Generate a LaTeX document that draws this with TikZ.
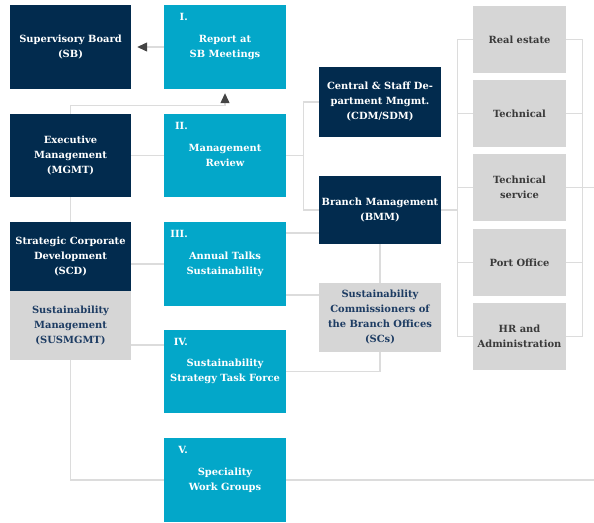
\documentclass[tikz,border=0pt]{standalone}
\usepackage{fontspec}
\setmainfont{DejaVu Serif}
\usetikzlibrary{arrows.meta,backgrounds}
\definecolor{navy}{HTML}{022B4E}
\definecolor{cyanbox}{HTML}{03A7C9}
\definecolor{graybox}{HTML}{D6D6D6}
\definecolor{linegray}{HTML}{DCDCDC}
\definecolor{arrowgray}{HTML}{444444}
\definecolor{navytext}{HTML}{1D3C63}
\definecolor{darktext}{HTML}{3A3A3A}
\tikzset{
  base/.style={inner sep=0pt, align=center, font=\fontsize{9.9}{15}\selectfont\bfseries},
  navybox/.style={base, fill=navy, text=white},
  cyanbx/.style={base, fill=cyanbox, text=white},
  susbox/.style={base, fill=graybox, text=navytext},
  unitbox/.style={base, fill=graybox, text=darktext, minimum width=93pt, minimum height=67pt},
  numlabel/.style={inner sep=0pt, anchor=east, text=white, font=\fontsize{9.9}{12}\selectfont\bfseries},
  conn/.style={draw=linegray, line width=1.2pt},
  tip/.style={-{Triangle[length=10pt,width=9pt,color=arrowgray]}}
}
\begin{document}
\begin{tikzpicture}[x=1pt,y=-1pt]
\useasboundingbox (0,0) rectangle (594,522);
% left column
\node[navybox, minimum width=121pt, minimum height=84pt] (sb) at (70.5,47) {Supervisory Board\\(SB)};
\node[navybox, minimum width=121pt, minimum height=83pt] (mgmt) at (70.5,155.5) {Executive\\Management\\(MGMT)};
\node[navybox, minimum width=121pt, minimum height=69pt] (scd) at (70.5,256.5) {Strategic Corporate\\Development\\(SCD)};
\node[susbox, minimum width=121pt, minimum height=69pt] (sus) at (70.5,325.5) {Sustainability\\Management\\(SUSMGMT)};
% cyan column
\node[cyanbx, minimum width=122pt, minimum height=84pt] (rep) at (225,47) {Report at\\SB Meetings};
\node[cyanbx, minimum width=122pt, minimum height=83pt] (mr) at (225,155.5) {Management\\Review};
\node[cyanbx, minimum width=122pt, minimum height=84pt] (at) at (225,264) {Annual Talks\\Sustainability};
\node[cyanbx, minimum width=122pt, minimum height=83pt] (tf) at (225,371.5) {Sustainability\\Strategy Task Force};
\node[cyanbx, minimum width=122pt, minimum height=84pt] (wg) at (225,480) {Speciality\\Work Groups};
\node[numlabel] (n1) at (188,17) {I.};
\node[numlabel] (n2) at (188,126) {II.};
\node[numlabel] (n3) at (188,234) {III.};
\node[numlabel] (n4) at (188,342) {IV.};
\node[numlabel] (n5) at (188,450) {V.};
% middle column
\node[navybox, minimum width=122pt, minimum height=70pt] (cdm) at (380,102) {Central \& Staff De-\\partment Mngmt.\\(CDM/SDM)};
\node[navybox, minimum width=122pt, minimum height=68pt] (bmm) at (380,210) {Branch Management\\(BMM)};
\node[susbox, minimum width=122pt, minimum height=69pt] (scs) at (380,317.5) {Sustainability\\Commissioners of\\the Branch Offices\\(SCs)};
% right column
\node[unitbox] (re) at (519.5,39.5) {Real estate};
\node[unitbox] (tech) at (519.5,113.5) {Technical};
\node[unitbox] (ts) at (519.5,187.5) {Technical\\service};
\node[unitbox] (po) at (519.5,262.5) {Port Office};
\node[unitbox] (hr) at (519.5,336.5) {HR and\\Administration};
\coordinate (eright) at (594,187.5);
\coordinate (ebottom) at (594,480);
\begin{scope}[on background layer]
\draw[conn] (sus.south) |- (ebottom);
\end{scope}
% connectors
\draw[conn, tip, shorten >=6pt] (rep.west) -- (sb.east);
\draw[conn, tip, shorten >=4pt] (mgmt.north) -- ++(0,-8) -| (rep.south);
\draw[conn] (mgmt.east) -- (mr.west);
\draw[conn] (mgmt.south) -- (scd.north);
\draw[conn] (scd.east |- at.west) -- (at.west);
\draw[conn] ([yshift=-19.5pt]sus.east) -- ([yshift=-19.5pt]sus.east -| tf.west);
\draw[conn] (cdm.west) -- ++(-15,0) coordinate (bt) |- (bmm.west);
\draw[conn] (mr.east) -- (mr.east -| bt);
\draw[conn] ([yshift=-23pt]bmm.west) -- ([yshift=-23pt]bmm.west -| at.east);
\draw[conn] ([yshift=22.5pt]scs.west) -- ([yshift=22.5pt]scs.west -| at.east);
\draw[conn] (bmm.south) -- (scs.north);
\draw[conn] (scs.south) |- (tf.east);
\draw[conn] (re.west) -- ++(-15,0) coordinate (lb) |- (hr.west);
\draw[conn] (tech.west) -- (tech.west -| lb);
\draw[conn] (ts.west) -- (ts.west -| lb);
\draw[conn] (po.west) -- (po.west -| lb);
\draw[conn] (bmm.east) -- (bmm.east -| lb);
\draw[conn] (re.east) -- ++(16,0) coordinate (rb) |- (hr.east);
\draw[conn] (tech.east) -- (tech.east -| rb);
\draw[conn] (po.east) -- (po.east -| rb);
\draw[conn] (ts.east) -- (eright);
\end{tikzpicture}
\end{document}
